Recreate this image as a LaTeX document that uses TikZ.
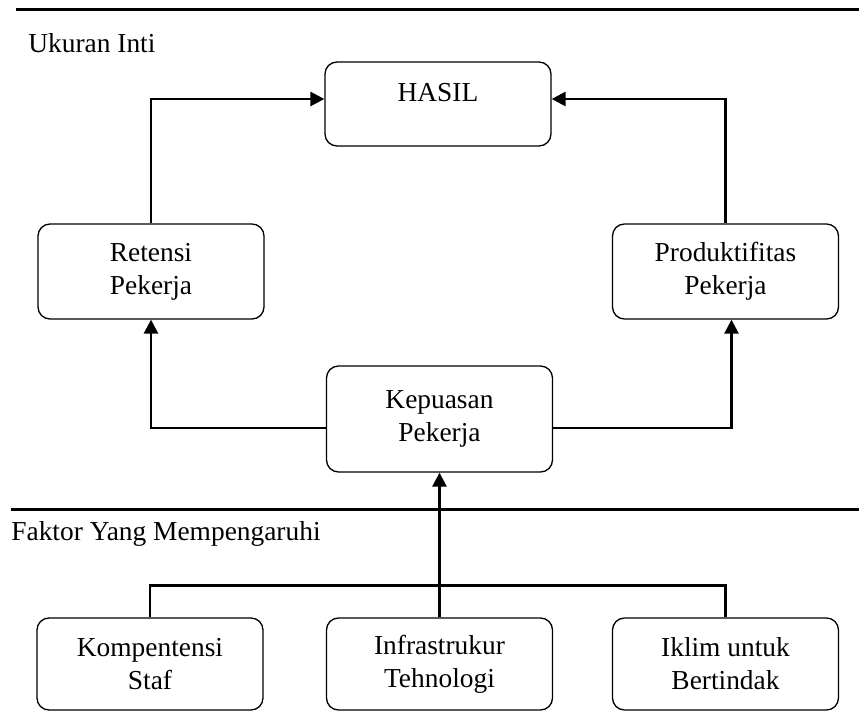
\documentclass[tikz,border=0pt]{standalone}
\usepackage{fontspec}
\setmainfont{Liberation Serif}
\usetikzlibrary{arrows.meta}
\usetikzlibrary{positioning}

\tikzset{
  kotak/.style={draw, rounded corners=6pt, line width=0.65pt, align=center,
    minimum width=113pt, minimum height=47pt, inner sep=0pt},
  garis/.style={line width=1.35pt},
  batas/.style={line width=1.5pt},
  judul/.style={anchor=base west, inner sep=0pt}
}

\begin{document}
\begin{tikzpicture}[x=0.5pt,y=-0.5pt,>={Triangle[length=7pt,width=7pt]},
    font=\fontsize{13.7}{16.5}\selectfont]
  \useasboundingbox (0,0) rectangle (859,712);
  % garis pemisah
  \coordinate (atasL) at (16,9);
  \coordinate (atasR) at (859,9);
  \coordinate (tengahL) at (11,509);
  \coordinate (tengahR) at (859,509);
  \draw[batas] (atasL) -- (atasR);
  \draw[batas] (tengahL) -- (tengahR);
  \node[judul] (inti) at (28,53) {Ukuran Inti};
  \node[judul] (faktor) at (11,540) {Faktor Yang Mempengaruhi};
  % ukuran inti
  \node[kotak, minimum height=42pt, text height=20pt, text depth=22pt] (hasil) at (438,104) {HASIL};
  \node[kotak, minimum height=47.5pt] (retensi) at (151,271.5) {Retensi\\Pekerja};
  \node[kotak, minimum height=47.5pt] (produk) at (725.5,271.5) {Produktifitas\\Pekerja};
  \node[kotak, minimum height=53pt] (kepuasan) at (439.5,419) {Kepuasan\\Pekerja};
  % faktor
  \node[kotak, minimum height=46pt] (kompetensi) at (150,664) {Kompentensi\\Staf};
  \node[kotak, minimum height=46pt] (infra) at (439.5,664) {Infrastrukur\\Tehnologi};
  \node[kotak, minimum height=46pt] (iklim) at (725.5,664) {Iklim untuk\\Bertindak};
  % panah
  \draw[garis,->] (retensi.north) |- ([yshift=2.5pt]hasil.west);
  \draw[garis,->] (produk.north) |- ([yshift=2.5pt]hasil.east);
  \draw[garis,->] ([yshift=-4.5pt]kepuasan.west) -| (retensi.south);
  \draw[garis,->] ([yshift=-4.5pt]kepuasan.east) -| ([xshift=3pt]produk.south);
  \draw[garis,->] (infra.north) -- (kepuasan.south);
  \draw[garis] (kompetensi.north) -- ++(0,-32) -| (iklim.north);
\end{tikzpicture}
\end{document}
